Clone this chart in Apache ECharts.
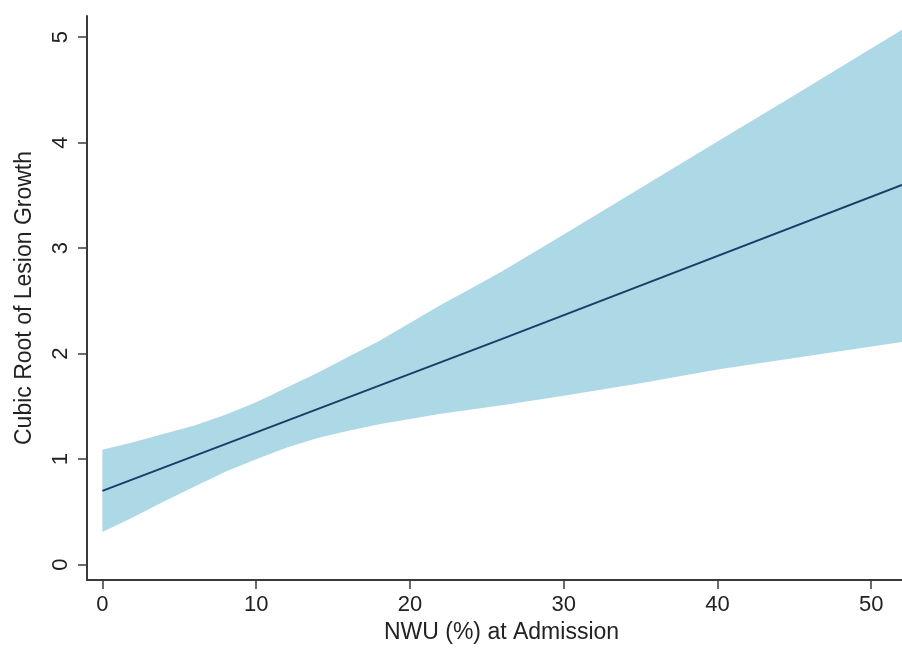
<!DOCTYPE html>
<html>
<head>
<meta charset="utf-8">
<style>
  html, body { margin: 0; padding: 0; background: #fff; }
  #chart { width: 902px; height: 654px; }
</style>
<script src="https://cdn.jsdelivr.net/npm/echarts@6/dist/echarts.min.js"></script>
</head>
<body>
<div id="chart"></div>
<script>
// fitted line
var lineX = [0, 26, 52]
var lineY = [0.70, 2.14, 3.60]

// confidence band
var ciX = [0, 2, 4, 6, 8, 10, 12, 14, 16, 18, 20, 22, 24, 26, 30, 35, 40, 45, 52]
var ciUpper = [1.09, 1.16, 1.24, 1.32, 1.42, 1.54, 1.68, 1.82, 1.97, 2.12, 2.29, 2.46, 2.62, 2.78, 3.13, 3.57, 4.01, 4.45, 5.07]
var ciLower = [0.31, 0.45, 0.60, 0.74, 0.88, 1.00, 1.11, 1.20, 1.27, 1.33, 1.38, 1.43, 1.47, 1.51, 1.60, 1.72, 1.85, 1.96, 2.11]

// tick labels
var xTicks = [0, 10, 20, 30, 40, 50]
var yTicks = [0, 1, 2, 3, 4, 5]

var font = '"Liberation Sans", Arial, Helvetica, sans-serif'
var axisColor = '#3a3a3a'

var chart = echarts.init(document.getElementById('chart'))

chart.setOption({
  animation: false,
  backgroundColor: '#fff',
  grid: {
    left: 87,
    right: 0,
    top: 16,
    bottom: 74
  },
  xAxis: {
    type: 'value',
    min: -1,
    max: 52,
    name: 'NWU (%) at Admission',
    nameLocation: 'middle',
    nameGap: 40,
    nameTextStyle: {
      fontFamily: font,
      fontSize: 23,
      color: '#222',
      padding: [0, 0, 0, 14]
    },
    axisLine: { onZero: false, lineStyle: { color: axisColor, width: 2 } },
    axisTick: {
      customValues: xTicks,
      length: 9,
      lineStyle: { color: axisColor, width: 1.5 }
    },
    axisLabel: {
      customValues: xTicks,
      margin: 14,
      fontFamily: font,
      fontSize: 22,
      color: '#222'
    },
    splitLine: { show: false }
  },
  yAxis: {
    type: 'value',
    min: -0.145,
    max: 5.2,
    name: 'Cubic Root of Lesion Growth',
    nameLocation: 'middle',
    nameRotate: 90,
    nameGap: 51,
    nameTextStyle: {
      fontFamily: font,
      fontSize: 23,
      color: '#222'
    },
    axisLine: { onZero: false, lineStyle: { color: axisColor, width: 2 } },
    axisTick: {
      customValues: yTicks,
      length: 9,
      lineStyle: { color: axisColor, width: 1.5 }
    },
    axisLabel: {
      customValues: yTicks,
      rotate: 90,
      margin: 15,
      fontFamily: font,
      fontSize: 22,
      color: '#222'
    },
    splitLine: { show: false }
  },
  series: [
    {
      type: 'custom',
      name: 'CI',
      data: [[0, 0]],
      z: 1,
      renderItem: function(params, api) {
        var pts = []
        for (var i = 0; i < ciX.length; i++) {
          pts.push(api.coord([ciX[i], ciUpper[i]]))
        }
        for (var j = ciX.length - 1; j >= 0; j--) {
          pts.push(api.coord([ciX[j], ciLower[j]]))
        }
        return {
          type: 'polygon',
          shape: { points: pts },
          style: { fill: '#add8e6', stroke: null }
        }
      }
    },
    {
      type: 'line',
      name: 'fit',
      z: 3,
      showSymbol: false,
      data: lineX.map(function(x, i) { return [x, lineY[i]] }),
      lineStyle: { color: '#1a3d66', width: 2 }
    }
  ]
})
</script>
</body>
</html>
